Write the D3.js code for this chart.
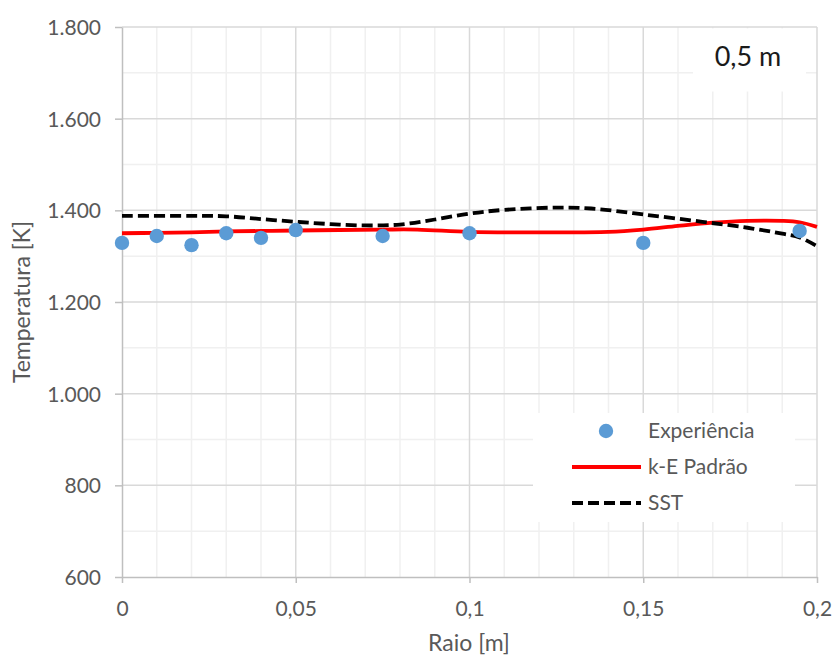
<!DOCTYPE html>
<html>
<head>
<meta charset="utf-8">
<script src="https://cdn.jsdelivr.net/npm/d3@7"></script>
<style>
  html, body { margin: 0; padding: 0; background: #fff; }
  svg { display: block; }
  text { font-family: Lato, "Open Sans", sans-serif; }
</style>
</head>
<body>
<svg id="chart" width="834" height="659"></svg>
<script>
// ---- data ----
const expX = [0, 0.01, 0.02, 0.03, 0.04, 0.05, 0.075, 0.1, 0.15, 0.195];
const expY = [1329, 1344, 1324, 1350, 1340, 1357, 1344, 1350, 1329, 1355];

const keX = [0, 0.01, 0.02, 0.03, 0.04, 0.05, 0.075, 0.085, 0.1, 0.12, 0.14, 0.15, 0.16, 0.17, 0.18, 0.19, 0.195, 0.2];
const keY = [1350, 1351, 1352, 1354, 1355, 1356, 1358, 1358, 1353, 1352, 1353, 1358, 1366, 1373, 1377, 1377, 1374, 1364];

const sstX = [0, 0.02, 0.03, 0.04, 0.05, 0.06, 0.07, 0.08, 0.09, 0.1, 0.11, 0.125, 0.135, 0.15, 0.167, 0.18, 0.19, 0.195, 0.2];
const sstY = [1388, 1388, 1387, 1381, 1375, 1370, 1367, 1369, 1380, 1393, 1401, 1406, 1404, 1391, 1375, 1362, 1349, 1341, 1322];

const xTicks = [0, 0.05, 0.1, 0.15, 0.2];
const xTickLabels = ["0", "0,05", "0,1", "0,15", "0,2"];
const yTicks = [600, 800, 1000, 1200, 1400, 1600, 1800];
const yTickLabels = ["600", "800", "1.000", "1.200", "1.400", "1.600", "1.800"];
const xMinorTicks = [0.01, 0.02, 0.03, 0.04, 0.06, 0.07, 0.08, 0.09, 0.11, 0.12, 0.13, 0.14, 0.16, 0.17, 0.18, 0.19];
const yMinorTicks = [700, 900, 1100, 1300, 1500, 1700];

const seriesNames = ["Experiência", "k-E Padrão", "SST"];
const titleText = "0,5 m";
const xTitle = "Raio [m]";
const yTitle = "Temperatura [K]";

// ---- layout ----
const svg = d3.select("#chart");
const pLeft = 122, pRight = 817, pTop = 27, pBottom = 577;
const x = d3.scaleLinear().domain([0, 0.2]).range([pLeft, pRight]);
const y = d3.scaleLinear().domain([600, 1800]).range([pBottom, pTop]);

const gGrid = svg.append("g");
// minor grid
gGrid.selectAll(".vx").data(xMinorTicks).join("line")
  .attr("class", "vx")
  .attr("x1", d => x(d)).attr("x2", d => x(d)).attr("y1", pTop).attr("y2", pBottom)
  .attr("stroke", "#f0f0f0").attr("stroke-width", 1.5);
gGrid.selectAll(".hy").data(yMinorTicks).join("line")
  .attr("class", "hy")
  .attr("x1", pLeft).attr("x2", pRight).attr("y1", d => y(d)).attr("y2", d => y(d))
  .attr("stroke", "#f0f0f0").attr("stroke-width", 1.5);
// major grid
gGrid.selectAll(".mx").data(xTicks.slice(1)).join("line")
  .attr("class", "mx")
  .attr("x1", d => x(d)).attr("x2", d => x(d)).attr("y1", pTop).attr("y2", pBottom)
  .attr("stroke", "#d9d9d9").attr("stroke-width", 1.5);
gGrid.selectAll(".my").data(yTicks.slice(1)).join("line")
  .attr("class", "my")
  .attr("x1", pLeft).attr("x2", pRight).attr("y1", d => y(d)).attr("y2", d => y(d))
  .attr("stroke", "#d9d9d9").attr("stroke-width", 1.5);

// white box behind "0,5 m" label
svg.append("rect").attr("x", 693).attr("y", 28.5).attr("width", 113).attr("height", 63).attr("fill", "#fff");

// axes
const xAxis = d3.axisBottom(x).tickValues(xTicks).tickFormat((d, i) => xTickLabels[i]).tickSize(6).tickSizeOuter(0).tickPadding(18);
const yAxis = d3.axisLeft(y).tickValues(yTicks).tickFormat((d, i) => yTickLabels[i]).tickSize(7).tickSizeOuter(0).tickPadding(14);

const gx = svg.append("g").attr("transform", `translate(0,${pBottom})`).call(xAxis);
const gy = svg.append("g").attr("transform", `translate(${pLeft},0)`).call(yAxis);
[gx, gy].forEach(g => {
  g.select(".domain").attr("stroke", "#bfbfbf").attr("stroke-width", 1.5);
  g.selectAll(".tick line").attr("stroke", "#bfbfbf").attr("stroke-width", 1.5);
  g.selectAll(".tick text").attr("fill", "#595959").style("font-size", "21px").style("font-family", "Lato, sans-serif");
});
gy.selectAll(".tick text").attr("dy", "0.36em");

// lines
const line = d3.line().x(d => x(d[0])).y(d => y(d[1])).curve(d3.curveCatmullRom.alpha(0.5));
const keData = keX.map((v, i) => [v, keY[i]]);
const sstData = sstX.map((v, i) => [v, sstY[i]]);

svg.append("path").datum(keData).attr("d", line)
  .attr("fill", "none").attr("stroke", "#ff0000").attr("stroke-width", 3.8);
svg.append("path").datum(sstData).attr("d", line)
  .attr("fill", "none").attr("stroke", "#000").attr("stroke-width", 3.8)
  .attr("stroke-dasharray", "11,5");

// points
svg.append("g").selectAll("circle").data(expX.map((v, i) => [v, expY[i]])).join("circle")
  .attr("cx", d => x(d[0])).attr("cy", d => y(d[1])).attr("r", 7.2)
  .attr("fill", "#5b9bd5");

// title label
svg.append("text").attr("x", 748).attr("y", 66).attr("text-anchor", "middle")
  .attr("fill", "#1a1a1a").style("font-size", "27px").text(titleText);

// legend
const lg = svg.append("g");
lg.append("rect").attr("x", 533).attr("y", 413).attr("width", 262).attr("height", 109).attr("fill", "#fff");
const legendRows = [431, 467, 503];
lg.append("circle").attr("cx", 606).attr("cy", legendRows[0]).attr("r", 7.2).attr("fill", "#5b9bd5");
lg.append("line").attr("x1", 572).attr("x2", 641).attr("y1", legendRows[1]).attr("y2", legendRows[1])
  .attr("stroke", "#ff0000").attr("stroke-width", 3.8);
lg.append("line").attr("x1", 572).attr("x2", 641).attr("y1", legendRows[2]).attr("y2", legendRows[2])
  .attr("stroke", "#000").attr("stroke-width", 3.8).attr("stroke-dasharray", "11,5");
lg.selectAll("text").data(seriesNames).join("text")
  .attr("x", 648).attr("y", (d, i) => legendRows[i] + 7)
  .attr("fill", "#595959").style("font-size", "21px").text(d => d);

// axis titles
svg.append("text").attr("x", (pLeft + pRight) / 2 - 0.5).attr("y", 651).attr("text-anchor", "middle")
  .attr("fill", "#595959").style("font-size", "23px").text(xTitle);
svg.append("text").attr("transform", "translate(30,302) rotate(-90)").attr("text-anchor", "middle")
  .attr("fill", "#595959").style("font-size", "23px").text(yTitle);
</script>
</body>
</html>
